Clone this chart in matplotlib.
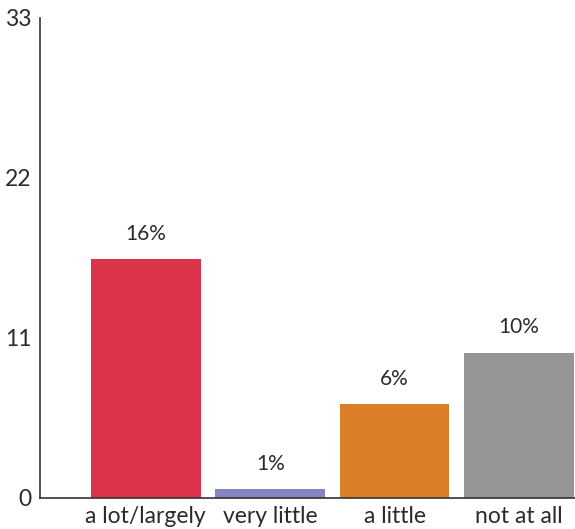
import matplotlib
matplotlib.use("Agg")
import matplotlib.pyplot as plt

categories = ["a lot/largely", "very little", "a little", "not at all"]
values = [16.4, 0.6, 6.45, 10.0]
colors = ["#DB344A", "#8585C4", "#DA7E27", "#969696"]
yticks = [0, 11, 22, 33]

plt.rcParams["font.family"] = ["Lato", "DejaVu Sans"]
text_color = "#2b2b2b"

fig = plt.figure(figsize=(5.75, 5.29), dpi=100)
ax = fig.add_axes([40 / 575, 31 / 529, 535 / 575, 480 / 529])

x = list(range(len(categories)))
ax.bar(x, values, width=0.88, color=colors, zorder=2)

for xi, v in zip(x, values):
    ax.annotate(f"{v:.0f}%", (xi, v), xytext=(0, 11), textcoords="offset points",
                ha="center", va="bottom", fontsize=15, color=text_color)

ax.set_ylim(0, 33)
ax.set_xlim(-0.85, 3.45)
ax.set_yticks(yticks)
ax.set_xticks(x)
ax.set_xticklabels(categories)
ax.tick_params(axis="both", length=0, labelsize=16.5, colors=text_color)
ax.tick_params(axis="y", pad=6)
ax.tick_params(axis="x", pad=6)

for side in ("top", "right"):
    ax.spines[side].set_visible(False)
for side in ("left", "bottom"):
    ax.spines[side].set_color("#333333")
    ax.spines[side].set_linewidth(1.2)

fig.savefig("out.png", dpi=100)
